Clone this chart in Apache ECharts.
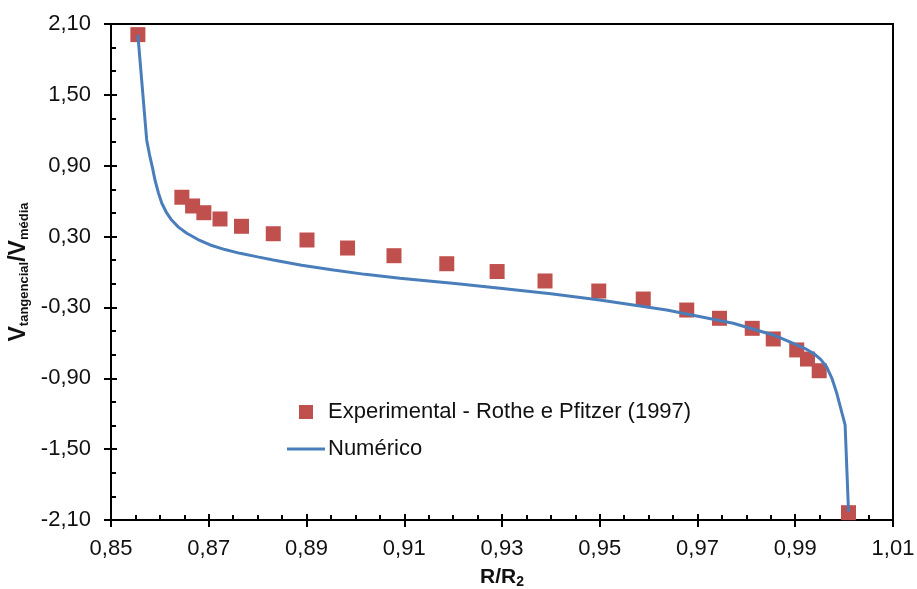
<!DOCTYPE html>
<html>
<head>
<meta charset="utf-8">
<script src="https://cdn.jsdelivr.net/npm/echarts@6/dist/echarts.min.js"></script>
<style>
  html, body { margin: 0; padding: 0; background: #fff; }
  #chart { width: 917px; height: 589px; }
</style>
</head>
<body>
<div id="chart"></div>
<script>
// Experimental tangential velocity profile (Rothe & Pfitzer, 1997)
const expR = [0.8555, 0.8645, 0.8667, 0.8690, 0.8723, 0.8767, 0.8832, 0.8901, 0.8984,
  0.9079, 0.9187, 0.9290, 0.9388, 0.9498, 0.9589, 0.9678, 0.9745, 0.9812, 0.9855,
  0.9903, 0.9925, 0.9949, 1.0009];
const expV = [2.01, 0.633, 0.559, 0.502, 0.449, 0.387, 0.324, 0.271, 0.203,
  0.138, 0.070, 0.004, -0.076, -0.161, -0.229, -0.322, -0.392, -0.477, -0.567,
  -0.660, -0.737, -0.836, -2.038];

// Numerical solution
const numR = [0.8555, 0.8573, 0.8579, 0.8585, 0.8590, 0.8597, 0.8604, 0.8614, 0.8624,
  0.8638, 0.8655, 0.8678, 0.8703, 0.8733, 0.8764, 0.8800, 0.8832, 0.8890, 0.8955,
  0.9020, 0.9091, 0.9204, 0.9296, 0.9400, 0.9500, 0.9637, 0.9773, 0.9855, 0.9896,
  0.9920, 0.9937, 0.9952, 0.9964, 0.9975, 0.9985, 1.0002, 1.0009];
const numV = [2.007, 1.118, 0.990, 0.880, 0.779, 0.670, 0.582, 0.500, 0.440,
  0.380, 0.328, 0.275, 0.229, 0.190, 0.158, 0.128, 0.102, 0.058, 0.017,
  -0.020, -0.053, -0.098, -0.138, -0.185, -0.237, -0.322, -0.434, -0.533, -0.604,
  -0.648, -0.688, -0.740, -0.802, -0.900, -1.027, -1.295, -2.03];

const seriesNames = ['Experimental - Rothe e Pfitzer (1997)', 'Numérico'];

const xMin = 0.85, xMax = 1.01, xStep = 0.02;
const yMin = -2.10, yMax = 2.10, yStep = 0.60;

const pairs = (a, b) => a.map((v, i) => [v, b[i]]);
const fmt = v => v.toFixed(2).replace('.', ',');

const FONT = '"Liberation Sans", Arial, sans-serif';
const black = '#000';
const red = '#C0504D';
const blue = '#4A7EBB';

const chart = echarts.init(document.getElementById('chart'), null, { renderer: 'canvas' });

const baseX = {
  type: 'value', min: xMin, max: xMax, interval: xStep, position: 'bottom',
  splitLine: { show: false }
};
const baseY = {
  type: 'value', min: yMin, max: yMax, interval: yStep, position: 'left',
  splitLine: { show: false }
};

chart.setOption({
  animation: false,
  backgroundColor: '#fff',
  grid: {
    left: 111, right: 24, top: 24, bottom: 69,
    containLabel: false,
    outerBoundsMode: 'none',
    show: true, borderColor: black, borderWidth: 2, backgroundColor: 'transparent'
  },
  legend: {
    orient: 'vertical',
    left: 287, top: 401,
    itemGap: 15,
    itemWidth: 38, itemHeight: 14,
    padding: 0,
    textStyle: { fontFamily: FONT, fontSize: 22, color: '#111', padding: [0, 0, 0, -2] },
    data: [
      { name: seriesNames[0], icon: 'path://M0,0h14v14h-14z', itemStyle: { color: red } },
      { name: seriesNames[1], icon: 'path://M0,0h38v3h-38z', itemStyle: { color: blue } }
    ]
  },
  xAxis: [
    Object.assign({}, baseX, {
      axisLine: { show: true, onZero: false, lineStyle: { color: black, width: 2 } },
      axisTick: { show: true, inside: true, length: 6, lineStyle: { color: black, width: 2 } },
      minorTick: { show: true, splitNumber: 4, length: 5, lineStyle: { color: black, width: 2 } },
      axisLabel: { formatter: fmt, fontFamily: FONT, fontSize: 22, color: '#111', margin: 18 },
      name: 'R/R{s|2}',
      nameLocation: 'middle', nameGap: 45, nameMoveOverlap: false,
      nameTextStyle: {
        fontFamily: FONT, fontSize: 21, fontWeight: 'bold', color: '#111',
        rich: { s: { fontFamily: FONT, fontSize: 14, fontWeight: 'bold', color: '#111', verticalAlign: 'bottom', padding: [10, 0, 0, 0] } }
      }
    }),
    Object.assign({}, baseX, {
      axisLine: { show: false, onZero: false },
      axisTick: { show: true, inside: false, length: 7, lineStyle: { color: black, width: 2 } },
      axisLabel: { show: false }
    })
  ],
  yAxis: [
    Object.assign({}, baseY, {
      axisLine: { show: true, onZero: false, lineStyle: { color: black, width: 2 } },
      axisTick: { show: true, inside: true, length: 6, lineStyle: { color: black, width: 2 } },
      minorTick: { show: true, splitNumber: 3, length: 5, lineStyle: { color: black, width: 2 } },
      axisLabel: { formatter: fmt, fontFamily: FONT, fontSize: 22, color: '#111', margin: 20 },
      name: 'V{s|tangencial}/V{s|média}',
      nameLocation: 'middle', nameGap: 80, nameRotate: 90, nameMoveOverlap: false,
      nameTextStyle: {
        fontFamily: FONT, fontSize: 23, fontWeight: 'bold', color: '#111',
        rich: { s: { fontFamily: FONT, fontSize: 13, fontWeight: 'bold', color: '#111', verticalAlign: 'bottom', padding: [11, 0, 0, 0] } }
      }
    }),
    Object.assign({}, baseY, {
      axisLine: { show: false, onZero: false },
      axisTick: { show: true, inside: false, length: 7, lineStyle: { color: black, width: 2 } },
      axisLabel: { show: false }
    })
  ],
  series: [
    {
      name: seriesNames[0], type: 'scatter',
      data: pairs(expR, expV),
      symbol: 'rect', symbolSize: 15,
      itemStyle: { color: red, opacity: 1 },
      z: 3
    },
    {
      name: seriesNames[1], type: 'line',
      data: pairs(numR, numV),
      showSymbol: false, symbol: 'none',
      smooth: false,
      lineStyle: { color: blue, width: 3 },
      itemStyle: { color: blue },
      z: 4
    }
  ]
});
</script>
</body>
</html>
